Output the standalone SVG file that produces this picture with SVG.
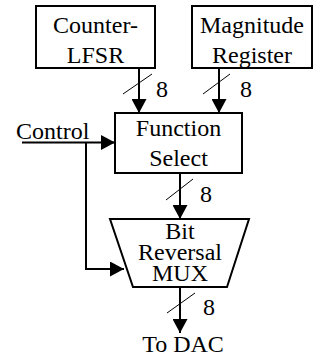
<svg xmlns="http://www.w3.org/2000/svg" width="324" height="358" viewBox="0 0 324 358">
<style>
text{font-family:"Liberation Serif","Times New Roman",serif;font-size:24px;fill:#000}
.c{text-anchor:middle}
.box{fill:#fff;stroke:#000;stroke-width:2}
.w{fill:none;stroke:#000;stroke-width:2}
.s{fill:none;stroke:#000;stroke-width:1}
</style>
<defs>
<marker id="ah" markerUnits="userSpaceOnUse" markerWidth="14" markerHeight="15" refX="14" refY="7.5" orient="auto">
<path d="M0,0 L14,7.5 L0,15 z" fill="#000"/>
</marker>
</defs>
<rect width="324" height="358" fill="#fff"/>
<g id="connectors">
<line class="w" x1="139" y1="68" x2="139" y2="113" marker-end="url(#ah)"/>
<line class="w" x1="219" y1="68" x2="219" y2="113" marker-end="url(#ah)"/>
<path class="w" d="M22,142.5 H115" marker-end="url(#ah)"/>
<path class="w" d="M86,142.5 V269 H124" marker-end="url(#ah)"/>
<line class="w" x1="180" y1="173" x2="180" y2="219" marker-end="url(#ah)"/>
<line class="w" x1="180" y1="287" x2="180" y2="333" marker-end="url(#ah)"/>
<line class="s" x1="123" y1="94" x2="152" y2="74"/>
<line class="s" x1="203" y1="94" x2="230" y2="74"/>
<line class="s" x1="166" y1="200" x2="193" y2="179"/>
<line class="s" x1="167" y1="313" x2="195" y2="293"/>
<text x="156" y="97">8</text>
<text x="240" y="97">8</text>
<text x="200" y="202">8</text>
<text x="203" y="315">8</text>
<text x="16" y="139">Control</text>
<text class="c" x="183" y="352">To DAC</text>
</g>
<g id="counter">
<rect class="box" x="36" y="6" width="119" height="62"/>
<text class="c" x="95.5" y="33">Counter-</text>
<text class="c" x="95.5" y="63">LFSR</text>
</g>
<g id="magnitude">
<rect class="box" x="192" y="6" width="120" height="62"/>
<text class="c" x="252" y="33">Magnitude</text>
<text class="c" x="252" y="63">Register</text>
</g>
<g id="function">
<rect class="box" x="115" y="113" width="127" height="60"/>
<text class="c" x="178.5" y="136">Function</text>
<text class="c" x="178.5" y="166">Select</text>
</g>
<g id="mux">
<path class="box" d="M110,219 L249,219 L227,287 L133,287 z"/>
<text class="c" x="180" y="239">Bit</text>
<text class="c" x="180" y="260">Reversal</text>
<text class="c" x="180" y="281">MUX</text>
</g>
</svg>
